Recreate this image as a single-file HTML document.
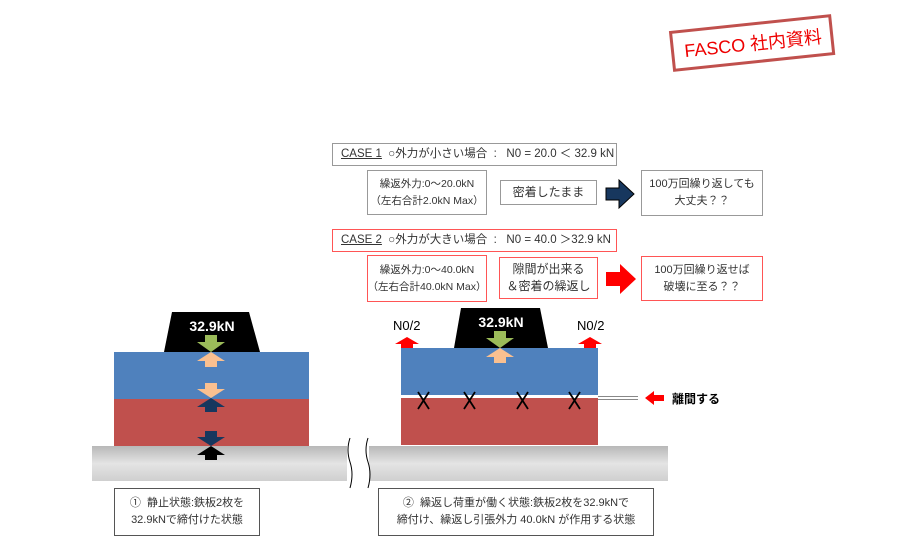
<!DOCTYPE html>
<html><head><meta charset="utf-8"><style>
body{margin:0;width:910px;height:549px;background:#fff;position:relative;overflow:hidden;font-family:"Liberation Sans","Noto Sans CJK JP",sans-serif;}
.t{position:absolute;color:#333;font-size:11.5px;text-align:center;line-height:17px;box-sizing:border-box;display:flex;align-items:center;justify-content:center;flex-direction:column;background:#fff;white-space:nowrap}
svg{position:absolute;left:0;top:0}
</style></head><body>
<svg width="910" height="549">
<defs>
<linearGradient id="g" x1="0" y1="0" x2="0" y2="1"><stop offset="0" stop-color="#b8b8b8"/><stop offset="0.5" stop-color="#e4e4e4"/><stop offset="1" stop-color="#cfcfcf"/></linearGradient>
</defs>
<g transform="rotate(-6 752 42)"><rect x="672" y="24" width="160" height="38" fill="#fff" stroke="#c0504d" stroke-width="3"/></g>
<rect x="92" y="446" width="576" height="35" fill="url(#g)"/>
<rect x="347" y="440" width="22" height="50" fill="#fff"/>
<path d="M350 438 q-4 12 0 24 q4 12 0 26" stroke="#000" fill="none"/>
<path d="M368 438 q-4 12 0 24 q4 12 0 26" stroke="#000" fill="none"/>
<rect x="114" y="352" width="195" height="47" fill="#4f81bd"/>
<rect x="114" y="399" width="195" height="47" fill="#c0504d"/>
<polygon points="172,312 249,312 260,352 164,352" fill="#000"/>
<rect x="401" y="348" width="197" height="47" fill="#4f81bd"/>
<rect x="401" y="398" width="197" height="47" fill="#c0504d"/>
<polygon points="461,308 540,308 548,348 454,348" fill="#000"/>
<line x1="598" y1="396.5" x2="638" y2="396.5" stroke="#888" stroke-width="1"/>
<line x1="598" y1="399.5" x2="638" y2="399.5" stroke="#888" stroke-width="1"/>
<polygon points="645,398 654,391 654,395 664,395 664,401 654,401 654,405" fill="#f00"/>
<g stroke="#000" stroke-width="1.8">
<line x1="418" y1="392" x2="429" y2="409"/><line x1="429" y1="392" x2="418" y2="409"/>
<line x1="464" y1="392" x2="475" y2="409"/><line x1="475" y1="392" x2="464" y2="409"/>
<line x1="517" y1="392" x2="528" y2="409"/><line x1="528" y1="392" x2="517" y2="409"/>
<line x1="569" y1="392" x2="580" y2="409"/><line x1="580" y1="392" x2="569" y2="409"/>
</g>
<polygon points="407,337 419,344 413,344 413,348 401,348 401,344 395,344" fill="#f00"/>
<polygon points="590,337 602,344 596,344 596,348 584,348 584,344 578,344" fill="#f00"/>
<polygon points="205,335 217,335 217,342 225,342 211,352 197,342 205,342" fill="#9bbb59"/>
<polygon points="211,352 225,361 217,361 217,367 205,367 205,361 197,361" fill="#fac090"/>
<polygon points="205,383 217,383 217,389 225,389 211,398 197,389 205,389" fill="#fac090"/>
<polygon points="211,398 225,407 217,407 217,412 205,412 205,407 197,407" fill="#17375e"/>
<polygon points="205,431 217,431 217,437 225,437 211,446 197,437 205,437" fill="#17375e"/>
<polygon points="211,446 225,455 217,455 217,460 205,460 205,455 197,455" fill="#000"/>
<polygon points="494,331 506,331 506,338 514,338 500,348 486,338 494,338" fill="#9bbb59"/>
<polygon points="500,348 514,357 506,357 506,363 494,363 494,357 486,357" fill="#fac090"/>
<polygon points="606,188 619,188 619,180 634,194 619,208 619,200 606,200" fill="#17375e" stroke="#000"/>
<polygon points="606,272 620,272 620,264 636,279 620,294 620,286 606,286" fill="#f00"/>
</svg>
<div style="position:absolute;left:678px;top:30px;width:150px;transform:rotate(-6deg);color:#e00;font-size:18px;text-align:center">FASCO 社内資料</div>

<div class="t" style="left:332px;top:143px;width:285px;height:23px;border:1px solid #999;flex-direction:row;justify-content:flex-start;padding-left:8px;font-size:11.5px"><span style="text-decoration:underline">CASE 1</span>&nbsp;&nbsp;○外力が小さい場合 &nbsp;: &nbsp;&nbsp;N0 = 20.0 ＜ 32.9 kN</div>
<div class="t" style="left:367px;top:170px;width:120px;height:45px;border:1px solid #999;font-size:10.5px">繰返外力:0～20.0kN<br>（左右合計2.0kN Max）</div>
<div class="t" style="left:500px;top:180px;width:97px;height:25px;border:1px solid #999;font-size:12px">密着したまま</div>
<div class="t" style="left:641px;top:170px;width:122px;height:46px;border:1px solid #999;font-size:11px">100万回繰り返しても<br>大丈夫？？</div>

<div class="t" style="left:332px;top:229px;width:285px;height:23px;border:1px solid #f55;flex-direction:row;justify-content:flex-start;padding-left:8px;font-size:11.5px"><span style="text-decoration:underline">CASE 2</span>&nbsp;&nbsp;○外力が大きい場合 &nbsp;: &nbsp;&nbsp;N0 = 40.0 ＞32.9 kN</div>
<div class="t" style="left:367px;top:255px;width:120px;height:47px;border:1px solid #f55;font-size:10.5px">繰返外力:0～40.0kN<br>（左右合計40.0kN Max）</div>
<div class="t" style="left:499px;top:257px;width:99px;height:42px;border:1px solid #f55;font-size:12px">隙間が出来る<br>＆密着の繰返し</div>
<div class="t" style="left:641px;top:256px;width:122px;height:45px;border:1px solid #f55;font-size:11px">100万回繰り返せば<br>破壊に至る？？</div>

<div style="position:absolute;left:164px;top:318px;width:96px;text-align:center;color:#fff;font-weight:bold;font-size:14px">32.9kN</div>
<div style="position:absolute;left:454px;top:314px;width:94px;text-align:center;color:#fff;font-weight:bold;font-size:14px">32.9kN</div>
<div style="position:absolute;left:393px;top:318px;font-size:13px;color:#000">N0/2</div>
<div style="position:absolute;left:577px;top:318px;font-size:13px;color:#000">N0/2</div>
<div style="position:absolute;left:672px;top:390px;font-size:12px;font-weight:bold;color:#000">離間する</div>

<div class="t" style="left:114px;top:488px;width:146px;height:48px;border:1px solid #555;font-size:11px">①&nbsp; 静止状態:鉄板2枚を<br>32.9kNで締付けた状態</div>
<div class="t" style="left:378px;top:488px;width:276px;height:48px;border:1px solid #555;font-size:11px">②&nbsp; 繰返し荷重が働く状態:鉄板2枚を32.9kNで<br>締付け、繰返し引張外力 40.0kN が作用する状態</div>
</body></html>
